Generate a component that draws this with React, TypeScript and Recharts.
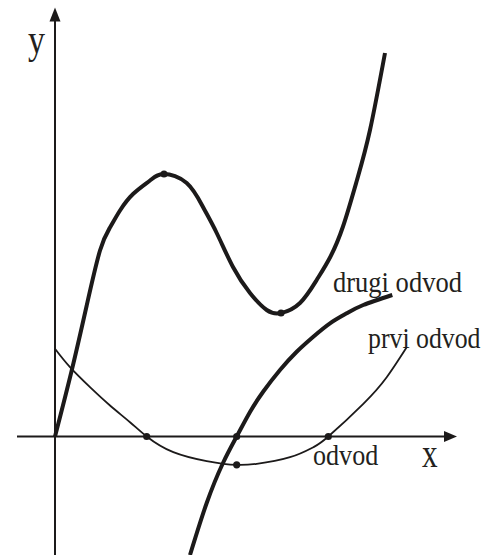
import React from "react";
import {
  ComposedChart,
  Line,
  XAxis,
  YAxis,
  ReferenceLine,
  ReferenceDot,
  Customized,
} from "recharts";

// Function f(x) and its derivatives, sampled along the sketch
const funcX = [0, 1.67, 3.17, 4.5, 5.5, 6.5, 7.83, 9.5, 10.9, 13.17, 14.8, 16.17, 17.8, 19.5, 21.17, 22.6, 24.5, 26.17, 27.5, 28.8, 30.2, 31.5, 33];
const funcY = [0, 6.6, 13.1, 18.6, 20.9, 22.6, 24.27, 25.6, 26.25, 25.35, 22.95, 20.35, 16.95, 14.35, 12.65, 12.35, 13.35, 15.65, 17.9, 21.0, 25.65, 30.65, 38.35];

const firstX = [0, 1.5, 3.5, 5.5, 7.5, 9.17, 11.83, 15.17, 16.83, 18.17, 20.17, 23.5, 25.83, 27.33, 30.83, 33.17, 35.17];
const firstY = [8.77, 6.93, 4.93, 3.1, 1.43, 0, -1.57, -2.47, -2.73, -2.83, -2.73, -2.07, -1.07, 0, 3.27, 5.93, 8.93];

const secondX = [13.5, 15.17, 16.8, 18.17, 19.5, 20.83, 22.5, 24.17, 25.83, 27.5, 29.17, 30.83, 33.73];
const secondY = [-11.85, -6.65, -2.65, 0, 2.45, 4.5, 6.65, 8.48, 9.98, 11.32, 12.32, 13.15, 14.15];

// Marked points: extrema of f, zeros of f' and f'', minimum of f'
const markX = [10.9, 22.6, 9.17, 18.17, 27.33, 18.17];
const markY = [26.25, 12.35, 0, 0, 0, -2.83];

// Axis extents
const xAxisFrom = -3.8;
const xAxisTo = 40.2;
const yAxisFrom = -11.85;
const yAxisTo = 42.9;

const X_DOMAIN: [number, number] = [-5.5, 43.1];
const Y_DOMAIN: [number, number] = [-11.85, 43.65];

const zip = (xs: number[], ys: number[]) => xs.map((x, i) => ({ x, y: ys[i] }));

const funcData = zip(funcX, funcY);
const firstData = zip(firstX, firstY);
const secondData = zip(secondX, secondY);
const marks = zip(markX, markY);

const INK = "#1c1a1a";
const FONT = '"Liberation Serif", "Times New Roman", serif';

const ArrowRight = (props: any) => {
  const { cx, cy } = props;
  return <polygon points={`${cx},${cy} ${cx - 13},${cy - 5.5} ${cx - 13},${cy + 5.5}`} fill={INK} />;
};

const ArrowUp = (props: any) => {
  const { cx, cy } = props;
  return <polygon points={`${cx},${cy} ${cx - 5.5},${cy + 14} ${cx + 5.5},${cy + 14}`} fill={INK} />;
};

// Narrow serif lettering: horizontal squeeze around the text origin
const Word = ({ x, y, size, sx, children }: { x: number; y: number; size: number; sx: number; children: string }) => (
  <text transform={`translate(${x},${y}) scale(${sx},1)`} fontSize={size}>
    {children}
  </text>
);

const Labels = () => (
  <g fill="#231f20" fontFamily={FONT}>
    <Word x={28} y={53} size={40} sx={0.85}>y</Word>
    <Word x={422} y={467} size={40} sx={0.78}>x</Word>
    <Word x={313} y={465} size={29} sx={0.9}>odvod</Word>
    <Word x={333} y={292} size={29} sx={0.915}>drugi odvod</Word>
    <Word x={368} y={348} size={29} sx={0.89}>prvi odvod</Word>
  </g>
);

export default function App() {
  return (
    <div style={{ position: "absolute", left: 0, top: 0, background: "#fff" }}>
      <ComposedChart width={486} height={555} margin={{ top: 0, right: 0, bottom: 0, left: 0 }}>
        <XAxis type="number" dataKey="x" domain={X_DOMAIN} hide allowDataOverflow />
        <YAxis type="number" dataKey="y" domain={Y_DOMAIN} hide allowDataOverflow />

        <ReferenceLine
          segment={[{ x: xAxisFrom, y: 0 }, { x: xAxisTo - 1, y: 0 }]}
          stroke={INK}
          strokeWidth={2}
          ifOverflow="visible"
        />
        <ReferenceLine
          segment={[{ x: 0, y: yAxisFrom }, { x: 0, y: yAxisTo - 1 }]}
          stroke={INK}
          strokeWidth={2}
          ifOverflow="visible"
        />
        <ReferenceDot x={xAxisTo} y={0} r={0} shape={ArrowRight} ifOverflow="visible" />
        <ReferenceDot x={0} y={yAxisTo} r={0} shape={ArrowUp} ifOverflow="visible" />

        <Line data={firstData} dataKey="y" type="natural" stroke={INK} strokeWidth={1.8} dot={false} activeDot={false} isAnimationActive={false} />
        <Line data={secondData} dataKey="y" type="natural" stroke={INK} strokeWidth={4} dot={false} activeDot={false} isAnimationActive={false} />
        <Line data={funcData} dataKey="y" type="natural" stroke={INK} strokeWidth={4} dot={false} activeDot={false} isAnimationActive={false} />

        {marks.map((m, i) => (
          <ReferenceDot key={i} x={m.x} y={m.y} r={3.6} fill={INK} stroke="none" />
        ))}

        <Customized component={Labels} />
      </ComposedChart>
    </div>
  );
}
